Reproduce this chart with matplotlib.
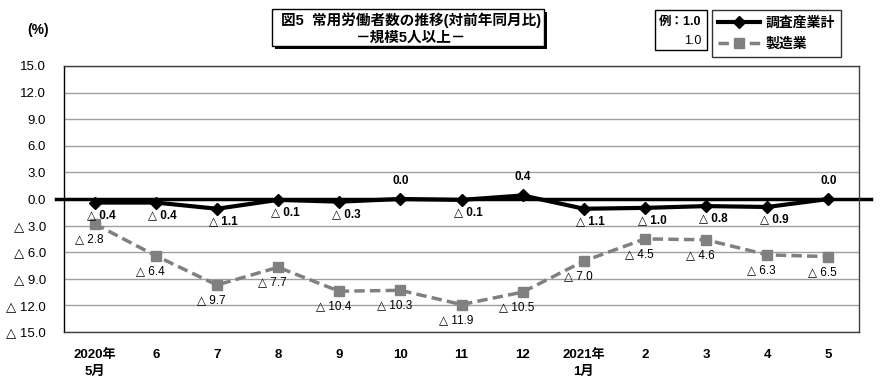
import matplotlib
matplotlib.use("Agg")
import matplotlib.pyplot as plt
from matplotlib.patches import Rectangle

plt.rcParams['font.family'] = ['Liberation Sans', 'DejaVu Sans', 'Noto Sans CJK JP']

months = ["2020年\n5月", "6", "7", "8", "9", "10", "11", "12", "2021年\n1月", "2", "3", "4", "5"]
total = [-0.4, -0.4, -1.1, -0.1, -0.3, 0.0, -0.1, 0.4, -1.1, -1.0, -0.8, -0.9, 0.0]
manuf = [-2.8, -6.4, -9.7, -7.7, -10.4, -10.3, -11.9, -10.5, -7.0, -4.5, -4.6, -6.3, -6.5]
yticks = [15, 12, 9, 6, 3, 0, -3, -6, -9, -12, -15]
series_names = ["調査産業計", "製造業"]
title_lines = ["図5  常用労働者数の推移(対前年同月比)", "－規模5人以上－"]

def fmt(v):
    return f"{v:.1f}" if v >= 0 else f"△ {abs(v):.1f}"

fig = plt.figure(figsize=(8.9, 3.88), dpi=100)
ax = fig.add_axes([64/890, 1-332/388, (859-64)/890, (332-66)/388])

x = list(range(len(months)))
ax.set_xlim(-0.5, len(months)-0.5)
ax.set_ylim(-15, 15)
ax.set_yticks(yticks)
ax.set_yticklabels([fmt(v) for v in yticks], fontsize=9.5)
ax.tick_params(axis='y', length=0, pad=13)
ax.set_xticks(x)
ax.set_xticklabels(months, fontsize=9.5, fontweight='bold', va='top', linespacing=1.6)
ax.tick_params(axis='x', length=0, pad=12)
ax.grid(axis='y', color='#a0a0a0', linewidth=1)
for s in ax.spines.values():
    s.set_color('#404040')
    s.set_linewidth(1)
ax.spines['left'].set_color('black')

ax.axhline(0, xmin=-0.01, xmax=1.015, color='black', linewidth=2.5, clip_on=False, zorder=2)

l2, = ax.plot(x, manuf, color='#808080', linestyle=(0, (3, 1.5)), linewidth=2.5,
              marker='s', markersize=6.5, zorder=3, label=series_names[1])
l1, = ax.plot(x, total, color='black', linewidth=3, marker='D', markersize=6.5,
              zorder=4, label=series_names[0])

for xi, v in zip(x, total):
    if v >= 0:
        ax.annotate(fmt(v), (xi, v), xytext=(0, 9), textcoords='offset points',
                    ha='center', va='bottom', fontsize=8.5, fontweight='bold')
    else:
        ax.annotate(fmt(v), (xi, v), xytext=(5, -9), textcoords='offset points',
                    ha='center', va='center', fontsize=8.5, fontweight='bold')
for xi, v in zip(x, manuf):
    ax.annotate(fmt(v), (xi, v), xytext=(-4, -11), textcoords='offset points',
                ha='center', va='center', fontsize=8.5)

# title with shadow box
fig.text(411/890, 1-20/388, title_lines[0], ha='center', va='center', fontsize=10.5, fontweight='bold')
fig.text(411/890, 1-38/388, title_lines[1], ha='center', va='center', fontsize=10.5, fontweight='bold')
fig.patches.append(Rectangle((275/890, 1-49/388), 272/890, 37/388, transform=fig.transFigure,
                             facecolor='black', edgecolor='none', zorder=0))
fig.patches.append(Rectangle((272/890, 1-46/388), 272/890, 37/388, transform=fig.transFigure,
                             facecolor='white', edgecolor='black', linewidth=1, zorder=1))

fig.text(38/890, 1-30/388, "(%)", ha='center', va='center', fontsize=10, fontweight='bold')

# example box
fig.patches.append(Rectangle((655/890, 1-50/388), 52/890, 40/388, transform=fig.transFigure,
                             facecolor='white', edgecolor='black', linewidth=1))
fig.text(701/890, 1-22/388, "例：1.0", ha='right', va='center', fontsize=9, fontweight='bold',
         family=['Liberation Sans', 'Noto Sans CJK JP'])
fig.text(701/890, 1-41/388, "1.0", ha='right', va='center', fontsize=9)

leg = fig.legend(handles=[l1, l2], loc='upper left', bbox_to_anchor=(712/890, 1-10/388),
                 fontsize=10, frameon=True, fancybox=False, handlelength=3.0,
                 borderpad=0.45, labelspacing=0.5, handletextpad=0.4, borderaxespad=0)
leg.get_frame().set_edgecolor('black')
leg.get_frame().set_linewidth(1)
for t in leg.get_texts():
    t.set_fontweight('bold')

fig.savefig("out.png", dpi=100)
